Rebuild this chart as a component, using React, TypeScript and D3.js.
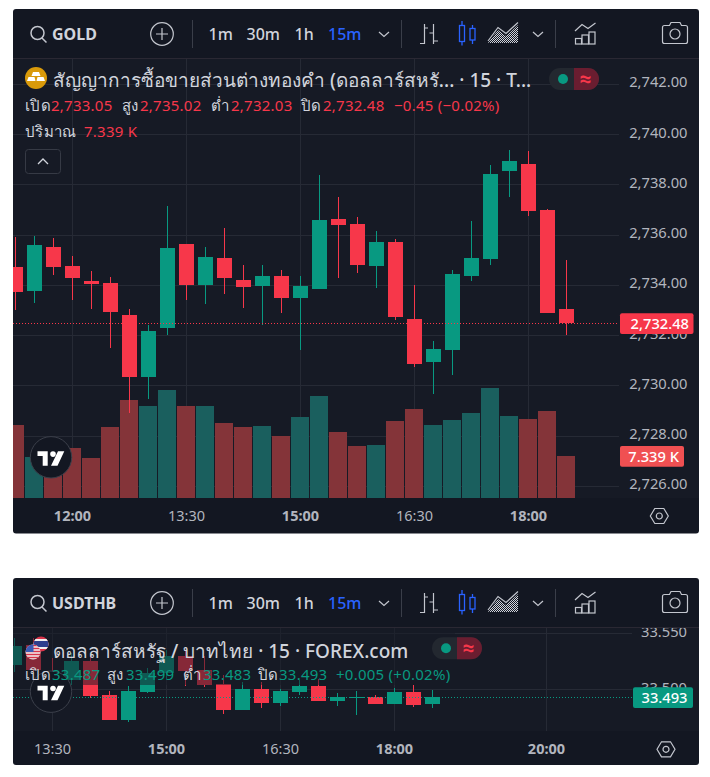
import React from "react";
import * as d3 from "d3";

// ---------- GOLD data ----------
const goldOpen = [2734.73,2733.77,2735.52,2734.77,2734.17,2734.09,2732.82,2730.35,2732.30,2735.64,2734.01,2735.09,2734.21,2733.97,2734.37,2733.49,2733.85,2736.64,2736.44,2734.77,2735.72,2732.66,2730.95,2731.42,2734.37,2735.05,2738.55,2738.83,2737.00,2733.05];
const goldHigh = [2735.92,2735.96,2735.88,2735.17,2734.57,2734.33,2733.06,2732.42,2737.16,2735.64,2735.52,2736.28,2734.81,2734.81,2734.61,2734.37,2738.39,2737.51,2736.72,2736.16,2735.84,2734.01,2731.78,2734.61,2736.56,2738.79,2739.38,2739.35,2737.04,2735.02];
const goldLow = [2733.03,2733.30,2734.41,2733.41,2733.06,2731.50,2728.90,2729.47,2732.02,2733.41,2733.26,2733.65,2733.10,2732.42,2732.90,2731.42,2733.85,2734.29,2734.49,2733.89,2732.62,2730.75,2729.67,2730.43,2734.17,2734.81,2737.51,2736.76,2732.90,2732.03];
const goldClose = [2733.73,2735.60,2734.73,2734.29,2734.05,2732.94,2730.35,2732.18,2735.48,2734.01,2735.13,2734.29,2733.93,2734.37,2733.49,2733.97,2736.60,2736.40,2734.81,2735.72,2732.74,2730.87,2731.46,2734.45,2735.09,2738.43,2738.95,2736.96,2732.90,2732.48];
const goldVolume = [12.76,7.16,6.93,8.74,6.99,12.41,17.12,16.08,18.87,16.08,16.08,13.10,12.41,12.58,10.83,14.15,17.82,11.53,9.09,9.26,13.45,15.55,12.76,13.63,14.85,19.22,14.33,13.80,15.20,7.339];
const goldVolumeUp = [0,1,0,0,0,0,0,1,1,0,1,0,0,1,0,1,1,0,0,1,0,0,1,1,1,1,1,0,0,0];
const goldPriceTicks = [2742,2740,2738,2736,2734,2732,2730,2728,2726];
const goldTimeIndex = [3,9,15,21,27];
const goldTimeLabels = ["12:00","13:30","15:00","16:30","18:00"];
const goldTimeBold = [true,false,true,false,true];

// ---------- USDTHB data ----------
const thbOpen = [33.5217,33.5395,33.5157,33.5083,33.5253,33.4949,33.4726,33.4976,33.5142,33.5297,33.5172,33.5044,33.4815,33.5003,33.4878,33.4976,33.5029,33.4895,33.4928,33.4931,33.4869,33.4976,33.487];
const thbHigh = [33.5461,33.5455,33.5276,33.5321,33.5306,33.4985,33.5029,33.5187,33.5351,33.5342,33.5297,33.5128,33.5062,33.5068,33.5003,33.5083,33.5092,33.4967,33.4985,33.4949,33.5011,33.5038,33.499];
const thbLow = [33.5151,33.5157,33.4979,33.5038,33.4925,33.4726,33.4708,33.4967,33.5083,33.5029,33.5023,33.4779,33.4815,33.4833,33.4851,33.4949,33.4895,33.4851,33.4770,33.4869,33.4869,33.4842,33.483];
const thbClose = [33.5387,33.5172,33.5083,33.5253,33.4940,33.4726,33.4985,33.5148,33.5297,33.5163,33.5038,33.4815,33.5003,33.4878,33.4985,33.5029,33.4895,33.4931,33.4934,33.4869,33.4976,33.4860,33.493];
const thbPriceTicks = [33.55,33.5];
const thbTimeIndex = [2,8,14,20,28];
const thbTimeLabels = ["13:30","15:00","16:30","18:00","20:00"];
const thbTimeBold = [false,true,false,true,true];

const toolbarIntervals = ["1m","30m","1h","15m"];

const UP = "#089981";
const DOWN = "#f7374a";
const BG = "#161a25";
const BAR = "#131722";
const GRID = "#262a35";
const TXT = "#d1d4dc";
const AXIS = "#b2b5be";
const BLUE = "#2962ff";
const FONT = "'Noto Sans', Roboto, sans-serif";

function Toolbar({ dy, symbol, id }: { dy: number; symbol: string; id: string }) {
  const ic = { fill: "none", stroke: "#c3c6ce", strokeWidth: 1.2 };
  const ivx = [208.5, 246.5, 294.5, 328];
  return (
    <g transform={`translate(0,${dy})`} fontFamily={FONT}>
      <defs>
        <pattern id={id} width={2} height={2} patternUnits="userSpaceOnUse">
          <rect width={1} height={1} fill="#d1d4dc" />
          <rect x={1} y={1} width={1} height={1} fill="#d1d4dc" />
        </pattern>
      </defs>
      <circle cx={37.5} cy={33} r={6.5} {...ic} strokeWidth={1.5} />
      <line x1={42} y1={38} x2={46.5} y2={42.5} {...ic} strokeWidth={1.5} />
      <text x={52} y={39.5} fontSize={16} fontWeight={700} fill={TXT}>{symbol}</text>
      <circle cx={162} cy={34} r={11.3} {...ic} />
      <path d="M162 28V40M156 34H168" {...ic} />
      <line x1={192.5} y1={20} x2={192.5} y2={48} stroke="#3a3e49" />
      {toolbarIntervals.map((t, i) => (
        <text key={t} x={ivx[i]} y={39.5} fontSize={16} fontWeight={500} fill={i === 3 ? BLUE : TXT}>{t}</text>
      ))}
      <path d="M379 32L384 36.5L389 32" {...ic} />
      <line x1={401.5} y1={20} x2={401.5} y2={48} stroke="#3a3e49" />
      <path d="M424.5 24V44M420 43.5H424.5M424.5 28H428M433.5 24V44M429.5 33H433.5M433.5 41H438" {...ic} />
      <g fill="none" stroke={BLUE} strokeWidth={1.3}>
        <rect x={459.5} y={25.5} width={5} height={16} />
        <path d="M462 21V25.5M462 41.5V45.5" />
        <rect x={470} y={28.5} width={5} height={11.5} />
        <path d="M472.5 25V28.5M472.5 40V44" />
      </g>
      <path d="M488 43L498 30L506 36L518 25V43Z" fill={`url(#${id})`} />
      <path d="M488 41L498 27.5L506 33.5L518 22.5" {...ic} />
      <path d="M533 32L538 36.5L543 32" {...ic} />
      <line x1={555.5} y1={20} x2={555.5} y2={48} stroke="#3a3e49" />
      <path d="M575 31L582 24.5L588 28.5L595.5 23" {...ic} />
      <rect x={575.5} y={38.5} width={6} height={5.5} {...ic} />
      <rect x={582} y={35} width={6.5} height={9} {...ic} />
      <rect x={589} y={32} width={6} height={12} {...ic} />
      <path d="M662.5 27.5Q662.5 25.5 664.5 25.5H669.5L671 22.5H680L681.5 25.5H685.5Q687.5 25.5 687.5 27.5V41.5Q687.5 43.5 685.5 43.5H664.5Q662.5 43.5 662.5 41.5Z" {...ic} />
      <circle cx={675} cy={34} r={5} {...ic} />
    </g>
  );
}

function TvLogo({ cx, cy }: { cx: number; cy: number }) {
  return (
    <g transform={`translate(${cx},${cy})`}>
      <circle r={20.7} fill={BAR} stroke="#3b3f4a" strokeWidth={1} />
      <path d="M-13.5 -6H-3.3V8.5H-8.3V-1.2H-13.5Z M7 -6H13.3L6.5 8.5H0Z" fill="#fff" />
      <circle cx={2} cy={-3.2} r={2.8} fill="#fff" />
    </g>
  );
}

function Hex({ cx, cy }: { cx: number; cy: number }) {
  return (
    <g transform={`translate(${cx},${cy})`} fill="none" stroke="#c3c6ce" strokeWidth={1.2}>
      <path d="M-9 0L-4.5 -7.5H4.5L9 0L4.5 7.5H-4.5Z" />
      <circle r={3} />
    </g>
  );
}

function Pill({ x, y }: { x: number; y: number }) {
  return (
    <g transform={`translate(${x},${y})`}>
      <rect width={50} height={22} rx={11} fill="#232830" />
      <path d="M25 0H39A11 11 0 0 1 39 22H25Z" fill="#6a1d30" />
      <circle cx={14} cy={11} r={5} fill={UP} />
      <text x={36.5} y={17.5} textAnchor="middle" fontSize={21} fontWeight={700} fill={DOWN} fontFamily={FONT}>≈</text>
    </g>
  );
}

function Candles({ open, high, low, close, x, y, clip }: { open: number[]; high: number[]; low: number[]; close: number[]; x: (i: number) => number; y: d3.ScaleLinear<number, number>; clip: string }) {
  return (
    <g clipPath={`url(#${clip})`}>
      {open.map((o, i) => {
        const up = close[i] >= o;
        const c = up ? UP : DOWN;
        const top = Math.round(y(Math.max(o, close[i])));
        const bot = Math.round(y(Math.min(o, close[i])));
        const hi = Math.round(y(high[i]));
        const lo = Math.round(y(low[i]));
        return (
          <g key={i} fill={c}>
            <rect x={x(i) - 0.5} y={hi} width={1} height={Math.max(lo - hi, 1)} />
            <rect x={x(i) - 7.5} y={top} width={15} height={Math.max(bot - top, 1)} />
          </g>
        );
      })}
    </g>
  );
}

function Grid({ xs, ys, x0, x1, y0, y1 }: { xs: number[]; ys: number[]; x0: number; x1: number; y0: number; y1: number }) {
  return (
    <g stroke={GRID} strokeWidth={1}>
      {xs.map((v, i) => <line key={i} x1={v} x2={v} y1={y0} y2={y1} />)}
      {ys.map((v, i) => <line key={i} x1={x0} x2={x1} y1={Math.floor(v) + 0.5} y2={Math.floor(v) + 0.5} />)}
    </g>
  );
}

function GoldPanel() {
  const x = d3.scaleLinear().domain([0, 1]).range([15.5, 34.5]);
  const y = d3.scaleLinear().domain([2742, 2726]).range([84.3, 486.3]);
  const vol = d3.scaleLinear().domain([0, 19.22]).range([498, 388]);
  const fmt = d3.format(",.2f");
  const last = goldClose[goldClose.length - 1];
  return (
    <g fontFamily={FONT}>
      <rect x={13} y={9} width={686} height={524.5} rx={3} fill={BAR} />
      <rect x={13} y={59} width={607} height={439} fill={BG} />
      <rect x={620} y={59} width={79} height={439} fill={BG} />
      <line x1={13} x2={699} y1={58.5} y2={58.5} stroke="#2a2833" />
      <Toolbar dy={0} symbol="GOLD" id="dotsGold" />
      <Grid xs={goldTimeIndex.map((i) => x(i))} ys={goldPriceTicks.map((p) => y(p))} x0={13} x1={619} y0={59} y1={498} />
      <g clipPath="url(#clipGold)">
        {goldVolume.map((v, i) => (
          <rect key={i} x={x(i) - 9.5} y={Math.round(vol(v))} width={18} height={498 - Math.round(vol(v))} fill={goldVolumeUp[i] ? "#1a5f5e" : "#843439"} />
        ))}
      </g>
      <Candles open={goldOpen} high={goldHigh} low={goldLow} close={goldClose} x={x} y={y} clip="clipGold" />
      <line x1={13} x2={619} y1={Math.floor(y(last)) + 0.5} y2={Math.floor(y(last)) + 0.5} stroke={DOWN} strokeDasharray="1 2" />
      <TvLogo cx={51} cy={457.3} />
      {goldPriceTicks.map((p) => (
        <text key={p} x={687.5} y={y(p) + 3} textAnchor="end" fontSize={14.7} fill={AXIS}>{fmt(p)}</text>
      ))}
      <rect x={620} y={313.3} width={73.5} height={20.7} rx={2} fill={DOWN} />
      <text x={689} y={329} textAnchor="end" fontSize={14.7} fontWeight={500} fill="#fff">{fmt(last)}</text>
      <rect x={620} y={446} width={64} height={20.7} rx={2} fill="#f05052" />
      <text x={679} y={462} textAnchor="end" fontSize={14.7} fontWeight={500} fill="#fff">7.339 K</text>
      {goldTimeIndex.map((t, i) => (
        <text key={t} x={x(t)} y={521} textAnchor="middle" fontSize={14.5} fontWeight={goldTimeBold[i] ? 700 : 400} fill={AXIS}>{goldTimeLabels[i]}</text>
      ))}
      <Hex cx={659.3} cy={516} />
      <circle cx={36} cy={78} r={11} fill="#d99a0a" />
      <path d="M33 72H39L40.5 76H31.5Z M27 81L28.5 77H34.5L35.5 81Z M36.5 81L37.5 77H43.5L45 81Z" fill="#fff" />
      <text x={53} y={86.5} fontSize={19} fontWeight={500} fill={TXT}>สัญญาการซื้อขายส่วนต่างทองคำ (ดอลลาร์สหรั... · 15 · T...</text>
      <Pill x={549} y={68} />
      <g fontSize={15} letterSpacing={0.25}>
        <text x={25} y={111} fill={TXT}>เปิด</text>
        <text x={51} y={111} fill={DOWN}>{fmt(goldOpen[29])}</text>
        <text x={122} y={111} fill={TXT}>สูง</text>
        <text x={140} y={111} fill={DOWN}>{fmt(goldHigh[29])}</text>
        <text x={211} y={111} fill={TXT}>ต่ำ</text>
        <text x={231} y={111} fill={DOWN}>{fmt(goldLow[29])}</text>
        <text x={301} y={111} fill={TXT}>ปิด</text>
        <text x={323} y={111} fill={DOWN}>{fmt(last)}</text>
        <text x={394} y={111} fill={DOWN}>−0.45 (−0.02%)</text>
        <text x={25} y={137} fill={TXT}>ปริมาณ</text>
        <text x={84} y={137} fill={DOWN}>7.339 K</text>
      </g>
      <rect x={25.5} y={149.5} width={35} height={24} rx={3} fill="none" stroke="#363a45" />
      <path d="M38 164L43 159L48 164" fill="none" stroke={TXT} strokeWidth={1.3} />
    </g>
  );
}

function ThbPanel() {
  const x = d3.scaleLinear().domain([0, 1]).range([14.5, 33.5]);
  const y = d3.scaleLinear().domain([33.55, 33.5]).range([633.3, 689.3]);
  const fmt = d3.format(".3f");
  const last = thbClose[thbClose.length - 1];
  return (
    <g fontFamily={FONT}>
      <defs>
        <clipPath id="clipAxisThb"><rect x={632} y={628} width={67} height={100} /></clipPath>
        <clipPath id="clipThFlag"><circle cx={41} cy={644} r={7.5} /></clipPath>
        <clipPath id="clipUsFlag"><circle cx={33} cy={652} r={7.5} /></clipPath>
      </defs>
      <rect x={13} y={578} width={686} height={187} rx={3} fill={BAR} />
      <rect x={13} y={628} width={686} height={103} fill={BG} />
      <line x1={13} x2={699} y1={627.5} y2={627.5} stroke="#2a2833" />
      <Toolbar dy={569} symbol="USDTHB" id="dotsThb" />
      <Grid xs={thbTimeIndex.map((i) => x(i))} ys={thbPriceTicks.map((p) => y(p))} x0={13} x1={632} y0={628} y1={731} />
      <Candles open={thbOpen} high={thbHigh} low={thbLow} close={thbClose} x={x} y={y} clip="clipThb" />
      <line x1={13} x2={632} y1={Math.floor(y(last)) + 0.5} y2={Math.floor(y(last)) + 0.5} stroke={UP} strokeDasharray="1 2" />
      <rect x={13} y={628} width={442} height={57} fill={BG} opacity={0.5} />
      <TvLogo cx={51} cy={691.7} />
      <g clipPath="url(#clipAxisThb)">
        {thbPriceTicks.map((p) => (
          <text key={p} x={687} y={y(p) + 4} textAnchor="end" fontSize={14.7} fill={AXIS}>{fmt(p)}</text>
        ))}
      </g>
      <rect x={633} y={687.3} width={60} height={20.7} rx={2} fill={UP} />
      <text x={687.5} y={703} textAnchor="end" fontSize={14.7} fontWeight={500} fill="#fff">{fmt(last)}</text>
      {thbTimeIndex.map((t, i) => (
        <text key={t} x={x(t)} y={754} textAnchor="middle" fontSize={14.5} fontWeight={thbTimeBold[i] ? 700 : 400} fill={AXIS}>{thbTimeLabels[i]}</text>
      ))}
      <Hex cx={666} cy={749.3} />
      <g clipPath="url(#clipThFlag)">
        <rect x={33} y={636} width={16} height={16} fill="#d8344a" />
        <rect x={33} y={639} width={16} height={10} fill="#f0f0f0" />
        <rect x={33} y={641} width={16} height={6} fill="#2d3f8e" />
      </g>
      <g clipPath="url(#clipUsFlag)">
        <rect x={25} y={644} width={16} height={16} fill="#f0f0f0" />
        <path d="M25 645.5H41M25 648.5H41M25 651.5H41M25 654.5H41M25 657.5H41" stroke="#d8344a" strokeWidth={1.5} />
        <rect x={25} y={644} width={8.5} height={8} fill="#3b5bb5" />
      </g>
      <text x={53} y={657.5} fontSize={19} fontWeight={500} fill={TXT}>ดอลลาร์สหรัฐ / บาทไทย · 15 · FOREX.com</text>
      <Pill x={432} y={637.3} />
      <g fontSize={15} letterSpacing={0.25}>
        <text x={25} y={680} fill={TXT}>เปิด</text>
        <text x={52} y={680} fill={UP}>{fmt(thbOpen[22])}</text>
        <text x={107} y={680} fill={TXT}>สูง</text>
        <text x={126} y={680} fill={UP}>{fmt(thbHigh[22])}</text>
        <text x={183} y={680} fill={TXT}>ต่ำ</text>
        <text x={203} y={680} fill={UP}>{fmt(thbLow[22])}</text>
        <text x={258} y={680} fill={TXT}>ปิด</text>
        <text x={279} y={680} fill={UP}>{fmt(last)}</text>
        <text x={336} y={680} fill={UP}>+0.005 (+0.02%)</text>
      </g>
    </g>
  );
}

export default function App() {
  return (
    <svg width={710} height={777} style={{ position: "absolute", left: 0, top: 0 }}>
      <defs>
        <clipPath id="clipGold"><rect x={13} y={59} width={606} height={439} /></clipPath>
        <clipPath id="clipThb"><rect x={13} y={628} width={619} height={103} /></clipPath>
      </defs>
      <GoldPanel />
      <ThbPanel />
    </svg>
  );
}
